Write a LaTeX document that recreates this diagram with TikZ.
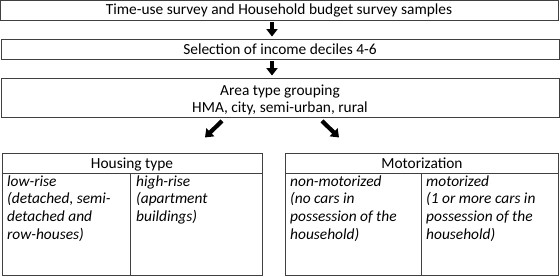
\documentclass[tikz,border=0pt]{standalone}
\usepackage{fontspec}
\setmainfont{Carlito}
\usetikzlibrary{arrows.meta}
\definecolor{linegray}{RGB}{64,64,64}
\begin{document}
\begin{tikzpicture}[x=1pt,y=-1pt,
  txt/.style={font=\fontsize{15.4}{17.7}\selectfont},
  stagebox/.style={txt, draw=linegray, line width=0.9pt, inner sep=0pt, minimum width=558pt, align=center},
  blockarrow/.style={black, line width=4.2pt, -{Triangle[length=7.5pt,width=11pt]}},
  tbl/.style={draw=linegray, line width=0.9pt},
  hdr/.style={txt, anchor=base, inner sep=0pt},
  cell/.style={anchor=north west, inner sep=0pt, align=left, font=\fontsize{15.4}{17.7}\selectfont\itshape}
]
\useasboundingbox[fill=white] (0,0) rectangle (560,276);

% stage boxes
\node[stagebox, minimum height=20pt] (b1) at (279,10) {Time-use survey and Household budget survey samples};
\node[stagebox, minimum height=20pt] (b2) at (280,49) {Selection of income deciles 4-6};
\node[stagebox, minimum height=39pt] (b3) at (280,97.5) {};
\node[txt, align=center, anchor=north, inner sep=0pt] (b3t) at (280,82.6) {\strut Area type grouping\\HMA, city, semi-urban, rural};

% vertical arrows
\coordinate (ax) at (272,0);
\draw[blockarrow, shorten <=2pt, shorten >=2pt] (b1.south -| ax) -- (b2.north -| ax);
\draw[blockarrow, shorten <=2pt, shorten >=2pt] (b2.south -| ax) -- (b3.north -| ax);

% diagonal arrows
\coordinate (la) at ([shift={(-58,3.5)}]b3.south);
\coordinate (lb) at ([shift={(-75,20)}]b3.south);
\coordinate (ra) at ([shift={(42,3.5)}]b3.south);
\coordinate (rb) at ([shift={(59,20)}]b3.south);
\draw[blockarrow] (la) -- (lb);
\draw[blockarrow] (ra) -- (rb);

% Housing type table
\draw[tbl] (2,153) rectangle (262,275);
\draw[tbl] (2,173) -- (262,173);
\draw[tbl] (130,173) -- (130,275);
\node[hdr] (hh) at (132,168) {Housing type};
\node[cell] (hlow) at (7,173.6) {\strut low-rise\\(detached, semi-\\detached and\\row-houses)};
\node[cell] (hhigh) at (136,173.6) {\strut high-rise\\(apartment\\buildings)};

% Motorization table
\draw[tbl] (285,153) rectangle (558,275);
\draw[tbl] (285,173) -- (558,173);
\draw[tbl] (421,173) -- (421,275);
\node[hdr] (mh) at (422,168) {Motorization};
\node[cell] (mnon) at (290,173.6) {\strut non-motorized\\(no cars in\\possession of the\\household)};
\node[cell] (mmot) at (426,173.6) {\strut motorized\\(1 or more cars in\\possession of the\\household)};
\end{tikzpicture}
\end{document}
